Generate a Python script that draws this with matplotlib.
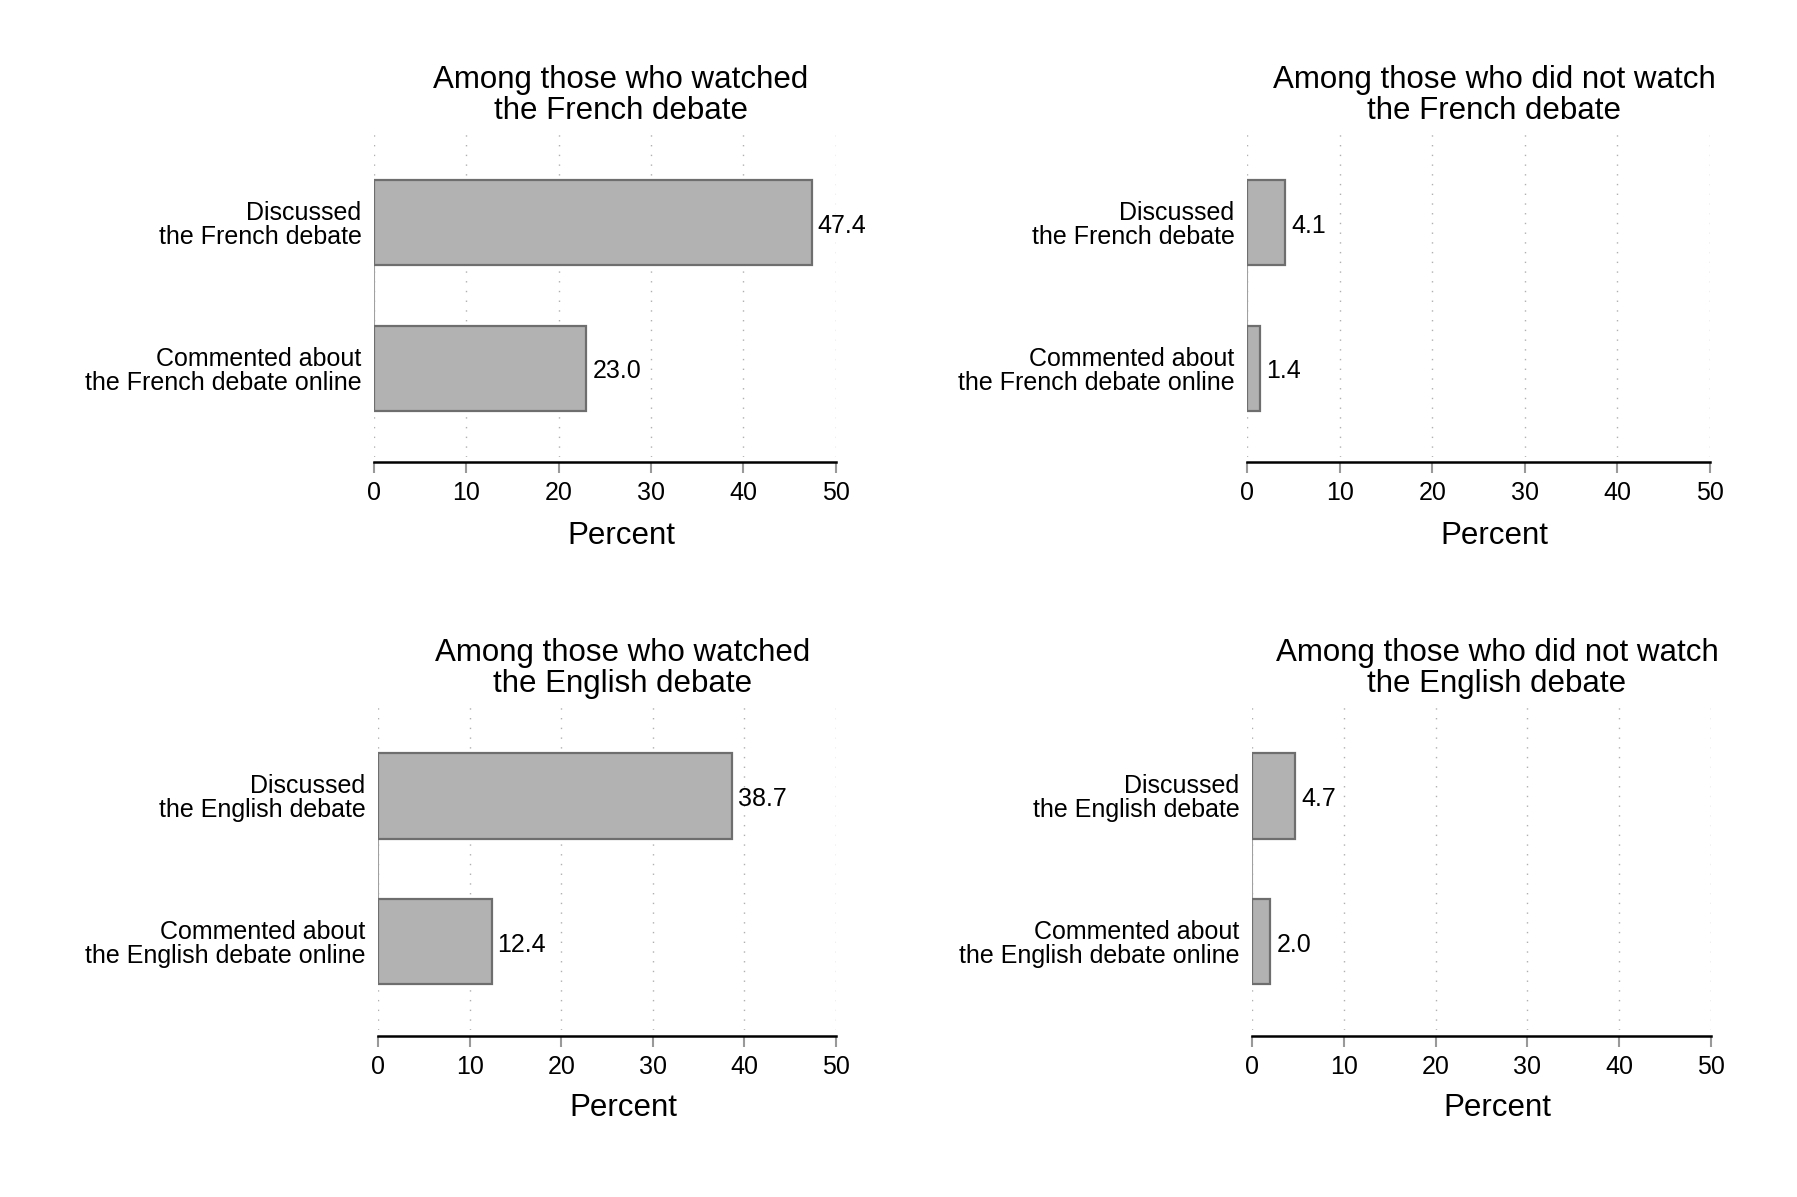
import matplotlib
matplotlib.use("Agg")
import matplotlib.pyplot as plt

plt.rcParams['font.family'] = ['Liberation Sans', 'DejaVu Sans']

# data
titles = ["Among those who watched\nthe French debate",
          "Among those who did not watch\nthe French debate",
          "Among those who watched\nthe English debate",
          "Among those who did not watch\nthe English debate"]
labels_fr = ["Discussed\nthe French debate", "Commented about\nthe French debate online"]
labels_en = ["Discussed\nthe English debate", "Commented about\nthe English debate online"]
watched_fr = [47.4, 23.0]
notwatched_fr = [4.1, 1.4]
watched_en = [38.7, 12.4]
notwatched_en = [4.7, 2.0]
xticks = [0, 10, 20, 30, 40, 50]

W, H = 1797, 1197
fig = plt.figure(figsize=(W / 100, H / 100), dpi=100)

# (left px, right px, top px, bottom px, title center x px, title center y px, xlabel y px)
boxes = [
    (374, 835.5, 133, 456.5, 621, 95.5, 535.5),
    (1247, 1710, 133, 456.5, 1494, 95.5, 535.5),
    (378, 836, 706, 1030, 623, 668.5, 1107.5),
    (1252, 1711, 706, 1030, 1497, 668.5, 1107.5),
]
panels = [(watched_fr, labels_fr), (notwatched_fr, labels_fr),
          (watched_en, labels_en), (notwatched_en, labels_en)]

for (vals, labs), title, box in zip(panels, titles, boxes):
    l, r, t, b, tx, ty, ly = box
    ax = fig.add_axes([l / W, 1 - b / H, (r - l) / W, (b - t) / H])
    for s in ['top', 'right', 'left']:
        ax.spines[s].set_visible(False)
    ax.spines['bottom'].set_position(('outward', 4))
    ax.spines['bottom'].set_linewidth(1.8)
    ax.spines['bottom'].set_color('black')

    pos = list(range(len(vals)))
    ax.barh(pos, vals, height=0.584, color='#b2b2b2', edgecolor='#6e6e6e',
            linewidth=1.6, zorder=3)
    ax.plot([0, 0], [0, 1], color='#a0a0a0', lw=1.5, zorder=2)
    for p, v in zip(pos, vals):
        ax.text(v + 0.65, p + 0.02, f"{v:.1f}", va='center', ha='left',
                fontsize=18)
    ax.set_xlim(0, 50)
    ax.set_ylim(1.605, -0.617)
    ax.set_xticks(xticks)
    ax.set_xticklabels([str(x) for x in xticks])
    ax.set_yticks(pos)
    ax.set_yticklabels(labs, linespacing=1.0)
    ax.tick_params(axis='y', length=0, pad=9, labelsize=18)
    ax.tick_params(axis='x', length=8, width=1.5, color='#999999', pad=6,
                   labelsize=18)
    for xv in xticks:
        ax.axvline(xv, color='#b0b0b0', lw=1.0, ls=(0, (1, 6)), zorder=1)
    fig.text(tx / W, 1 - ty / H, title, ha='center', va='center',
             fontsize=22.5, linespacing=1.05)
    fig.text(tx / W, 1 - ly / H, "Percent", ha='center', va='center',
             fontsize=22.5)

fig.savefig("out.png", dpi=100, facecolor='white')
